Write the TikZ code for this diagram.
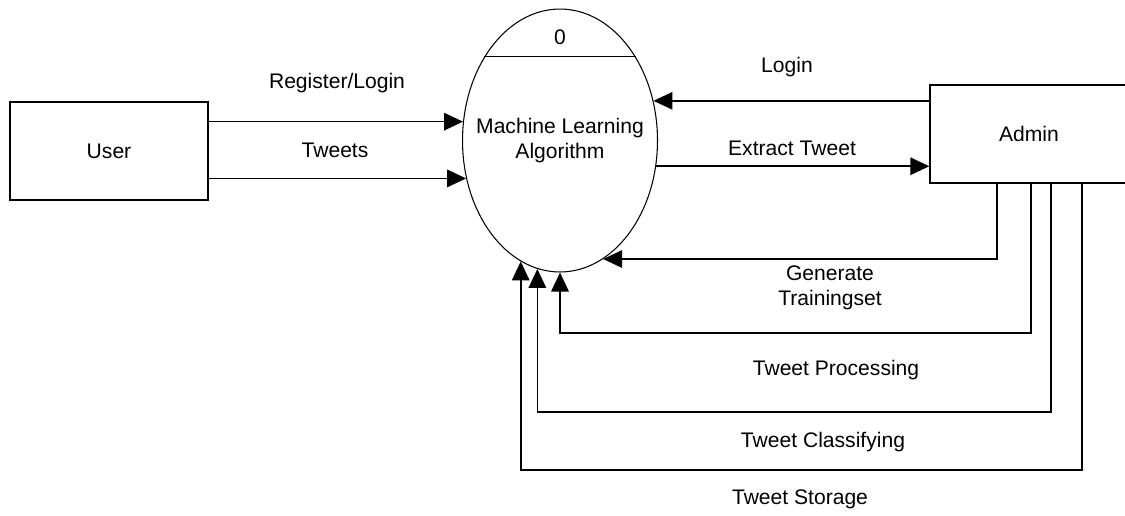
\documentclass[tikz,border=0pt]{standalone}
\usepackage{fontspec}
\setmainfont{Liberation Sans}
\usetikzlibrary{arrows.meta,shapes.geometric}

\begin{document}
\begin{tikzpicture}[x=0.02cm,y=-0.02cm,
    every node/.style={font=\fontsize{12}{14.2}\selectfont,inner sep=0pt},
    entity/.style={draw,line width=0.8pt,minimum width=3.96cm,minimum height=1.96cm},
    process/.style={draw,ellipse,line width=0.6pt,minimum width=3.9cm,minimum height=5.26cm},
    flow/.style={line width=0.9pt,-{Triangle[length=0.38cm,width=0.35cm]}}]
  \useasboundingbox (0,0) rectangle (1125,515);
  \draw
    (109,151) node[entity] (user){User}
    (1029,134) node[entity] (admin){Admin}
    (560,140.5) node[process] (mla){};
  \draw[line width=0.6pt] (mla.132) -- (mla.48);
  \draw
    (mla.center) node[align=center] (mlatext){Machine Learning\\Algorithm}
    (560,37) node (num){0}
    (337,83) node (reg){Register/Login}
    (335,150) node (tw){Tweets}
    (787,67) node (login){Login}
    (792,148) node (extract){Extract Tweet}
    (830,288) node[align=center] (gen){Generate\\Trainingset}
    (836,370) node (proc){Tweet Processing}
    (823,442) node (clas){Tweet Classifying}
    (800,499) node (stor){Tweet Storage};
  \coordinate (c1) at (997,0);
  \coordinate (c2) at (1031,0);
  \coordinate (c3) at (1051,0);
  \coordinate (c4) at (1082,0);
  \coordinate (r2) at (0,333);
  \coordinate (r3) at (0,412);
  \coordinate (r4) at (0,470);
  \begin{scope}[flow]
    \draw (user.east |- mla.169) -- (mla.169);
    \draw (user.east |- mla.202) -- (mla.202);
    \draw (admin.west |- mla.23) -- (mla.23);
    \draw (mla.345) -- (mla.345 -| admin.west);
    \draw (admin.south -| c1) |- (mla.290);
    \draw (admin.south -| c2) |- (mla.south |- r2) -- (mla.south);
    \draw (admin.south -| c3) |- (mla.260 |- r3) -- (mla.260);
    \draw (admin.south -| c4) |- (mla.252 |- r4) -- (mla.252);
  \end{scope}
\end{tikzpicture}
\end{document}
